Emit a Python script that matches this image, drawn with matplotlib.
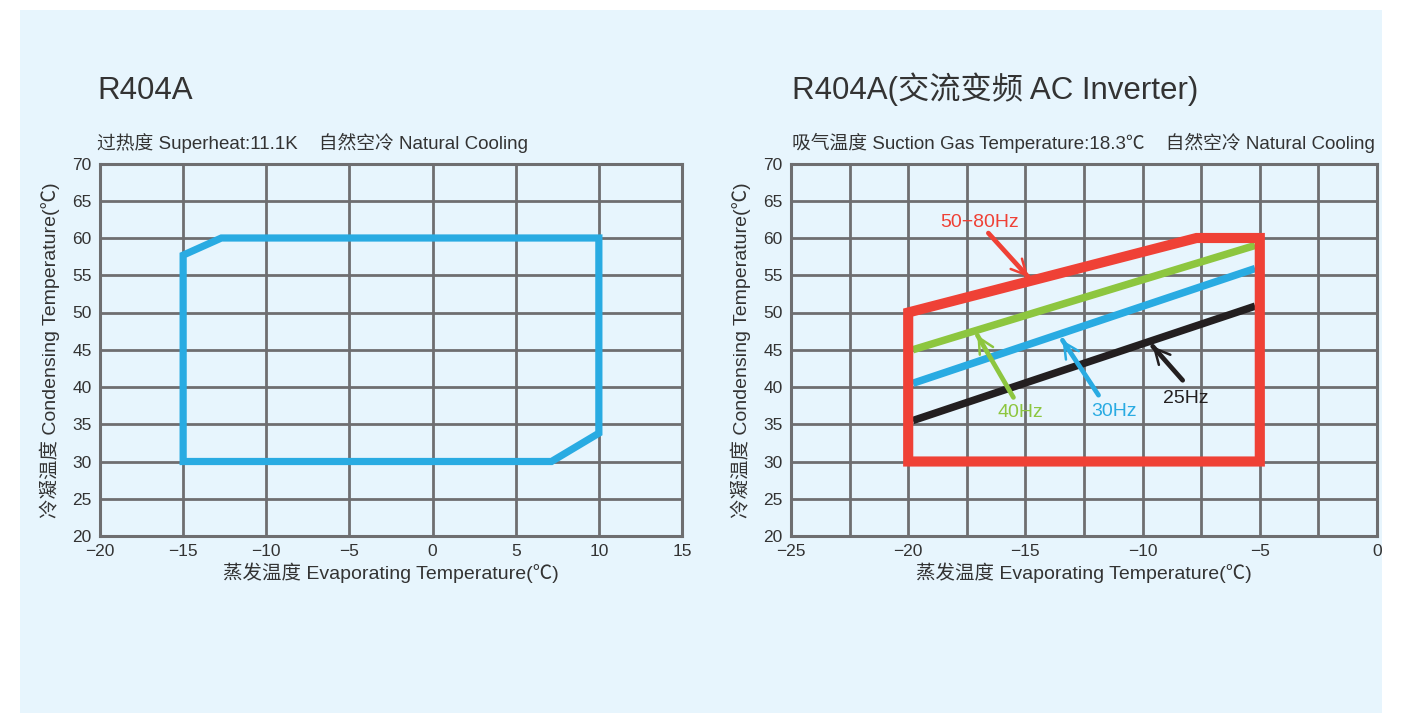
import numpy as np
import matplotlib
matplotlib.use("Agg")
import matplotlib.pyplot as plt
from matplotlib.patches import Rectangle

plt.rcParams["font.family"] = ["Liberation Sans", "Noto Sans CJK SC", "DejaVu Sans"]

# ---- data ----
# left: fixed-speed envelope
left_env_x = [-15, -15, -12.7, 10, 10, 7.15]
left_env_y = [30, 57.7, 60, 60, 33.8, 30]

# right: inverter envelope (50-80Hz) and lower-frequency limits
red_env_x = [-20, -20, -7.7, -5, -5]
red_env_y = [30, 50, 60, 60, 30]
freq_x = [-19.8, -5.2]
freq_40_y = [45.0, 59.0]
freq_30_y = [40.5, 55.9]
freq_25_y = [35.5, 50.85]

# annotation labels: text, text position, arrow tail, arrow tip
ann_labels = ["50−80Hz", "40Hz", "30Hz", "25Hz"]
ann_text_xy = [(-16.97, 62.1), (-15.2, 36.6), (-11.24, 36.7), (-8.16, 38.5)]
ann_tail_xy = [(-16.58, 60.66), (-15.51, 38.6), (-11.88, 38.9), (-8.29, 40.9)]
ann_tip_xy = [(-14.87, 54.74), (-17.05, 46.95), (-13.42, 46.28), (-9.57, 45.47)]

left_xticks = np.arange(-20, 16, 5)
right_xticks = np.arange(-25, 1, 5)
yticks = np.arange(20, 71, 5)

titles = ["R404A", "R404A(交流变频 AC Inverter)"]
subtitles = ["过热度 Superheat:11.1K    自然空冷 Natural Cooling",
             "吸气温度 Suction Gas Temperature:18.3℃    自然空冷 Natural Cooling"]
xlabel = "蒸发温度 Evaporating Temperature(℃)"
ylabel = "冷凝温度 Condensing Temperature(℃)"

# ---- colours ----
panel_bg = "#E7F5FD"
grid_col = "#6E6E70"
text_col = "#333333"
c_red = "#EF4136"
c_green = "#8DC63F"
c_blue = "#29ABE2"
c_black = "#231F20"

W, H = 1412, 713
fig = plt.figure(figsize=(W / 100, H / 100), dpi=100, facecolor="white")
fig.patches.append(Rectangle((20 / W, 0), (1382 - 20) / W, (H - 10) / H,
                             transform=fig.transFigure, facecolor=panel_bg,
                             edgecolor="none", zorder=-10))


def px(x, y):
    return x / W, 1 - y / H


def style_axes(ax, xlim, xticks, minor=None):
    ax.set_facecolor(panel_bg)
    ax.set_xlim(*xlim)
    ax.set_ylim(20, 70)
    ax.set_xticks(xticks)
    ax.set_yticks(yticks)
    if minor is not None:
        ax.set_xticks(minor, minor=True)
    ax.grid(True, which="both", color=grid_col, linewidth=2.0, zorder=1)
    ax.set_axisbelow(True)
    for s in ax.spines.values():
        s.set_color(grid_col)
        s.set_linewidth(2.2)
    ax.tick_params(which="both", length=0, pad=6, labelsize=12.5, colors=text_col)
    ax.set_xlabel(xlabel, fontsize=14, color=text_col, labelpad=2)
    ax.set_ylabel(ylabel, fontsize=14, color=text_col, labelpad=9)


# ---- left chart ----
ax1 = fig.add_axes([100 / W, 1 - 536 / H, 582 / W, 372.5 / H])
style_axes(ax1, (-20, 15), left_xticks)
ax1.fill(left_env_x, left_env_y, facecolor="none", edgecolor=c_blue,
         linewidth=5.2, joinstyle="miter", zorder=3)

# ---- right chart ----
ax2 = fig.add_axes([791 / W, 1 - 536 / H, 586 / W, 372.5 / H])
style_axes(ax2, (-25, 0), right_xticks, minor=np.arange(-22.5, 0, 5))
ax2.plot(freq_x, freq_40_y, color=c_green, linewidth=5.4, solid_capstyle="butt", zorder=3)
ax2.plot(freq_x, freq_30_y, color=c_blue, linewidth=5.4, solid_capstyle="butt", zorder=3)
ax2.plot(freq_x, freq_25_y, color=c_black, linewidth=5.4, solid_capstyle="butt", zorder=3)
ax2.fill(red_env_x, red_env_y, facecolor="none", edgecolor=c_red,
         linewidth=7.3, joinstyle="miter", zorder=4)

ann_colors = [c_red, c_green, c_blue, c_black]
for lab, txy, tail, tip, col in zip(ann_labels, ann_text_xy, ann_tail_xy, ann_tip_xy, ann_colors):
    ax2.text(txy[0], txy[1], lab, color=col, fontsize=14, ha="center", va="center", zorder=6)
    # thick shaft
    ax2.annotate("", xy=tip, xytext=tail,
                 arrowprops=dict(arrowstyle="-", color=col, lw=3.4,
                                 shrinkA=0, shrinkB=0, capstyle="round"), zorder=5)
    # thin open head
    ax2.annotate("", xy=tip, xytext=tail,
                 arrowprops=dict(arrowstyle="->,head_length=1.1,head_width=0.55",
                                 color=col, lw=1.8, shrinkA=0, shrinkB=0), zorder=5)

# ---- titles ----
for tx, title, sub in zip([97, 792], titles, subtitles):
    fig.text(*px(tx, 99), title, fontsize=22.5, color=text_col, va="baseline", ha="left")
    fig.text(*px(tx, 149), sub, fontsize=13.5, color=text_col, va="baseline", ha="left")

fig.savefig("out.png", dpi=100, facecolor="white")
